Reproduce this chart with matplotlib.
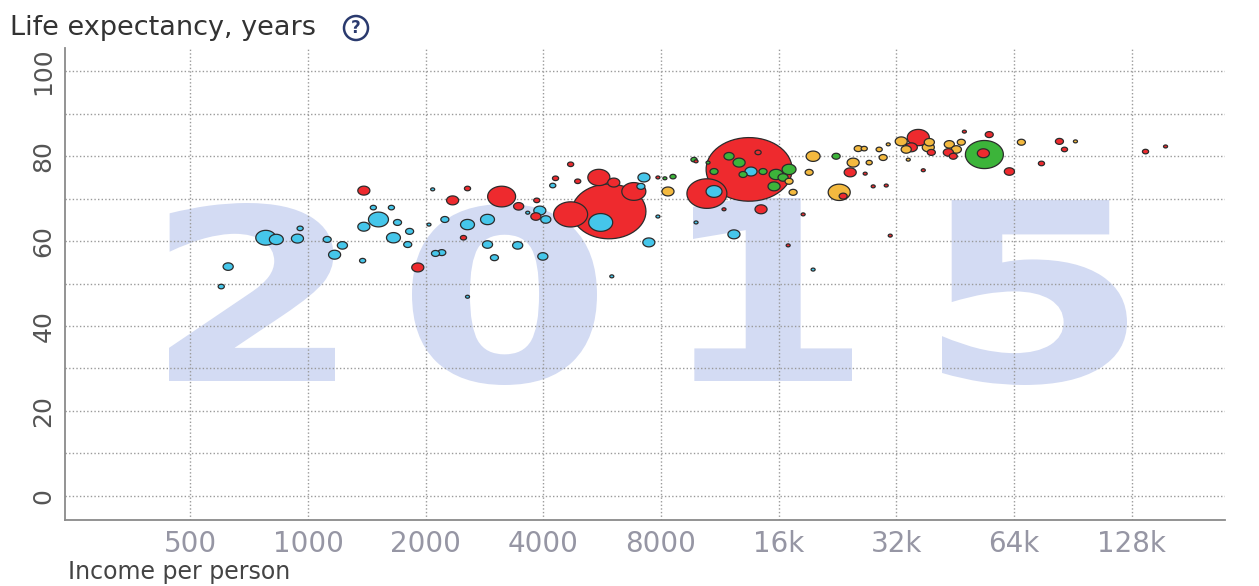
import matplotlib
matplotlib.use("Agg")
import matplotlib.pyplot as plt
import numpy as np
from matplotlib.path import Path
from matplotlib.textpath import TextPath
from matplotlib.patches import PathPatch
from matplotlib.font_manager import FontProperties
import matplotlib.transforms as mtransforms

# income per person (dollars), life expectancy (years), population (millions), region
income = [600, 625, 780, 830, 940, 955, 1120, 1170, 1225, 1380,
          1390, 1515, 1390, 1470, 1635, 1655, 1695, 1820, 1800, 1910,
          2085, 2040, 2560, 2345, 2240, 2560, 2880, 2500, 2120, 2200,
          2560, 3130, 3460, 2880, 3440, 3000, 3990, 4700, 4300, 4230,
          3920, 4060, 3830, 3850, 3650, 5890, 5610, 4700, 5550, 6820,
          6060, 4900, 7240, 7110, 7860, 8190, 8590, 8340, 7860, 7450,
          5990, 9840, 9840, 10490, 10940, 13450, 11950, 12680, 10940, 13600,
          12980, 14600, 15770, 17020, 16430, 15580, 17020, 17430, 14180, 9720,
          10560, 14430, 11600, 12300, 18490, 16930, 19610, 19160, 22460, 22870,
          23410, 24830, 24400, 27290, 26650, 25580, 26500, 28940, 29630, 27940,
          30170, 30530, 32960, 36440, 33940, 34970, 38650, 39350, 38890, 34350,
          37530, 43750, 45600, 43500, 46950, 44780, 47810, 53790, 53470, 55350,
          62330, 66890, 75290, 83700, 86230, 91980, 139000, 156400, 30890, 19610]
life = [49.3, 54.0, 60.8, 60.4, 60.6, 63.0, 60.4, 56.8, 59.0, 55.4,
        71.9, 65.1, 63.4, 67.9, 67.9, 60.8, 64.4, 62.3, 59.2, 53.8,
        72.2, 63.9, 72.4, 69.6, 65.1, 63.9, 65.1, 60.8, 57.1, 57.3,
        46.9, 70.5, 68.2, 59.2, 59.0, 56.1, 56.4, 78.1, 74.8, 73.1,
        67.2, 65.1, 65.8, 69.6, 66.7, 67.0, 64.4, 66.3, 75.0, 71.7,
        73.8, 74.1, 75.0, 72.9, 75.0, 74.8, 75.2, 71.7, 65.8, 59.7,
        51.7, 78.8, 64.4, 71.2, 71.7, 76.9, 80.0, 78.5, 76.4, 76.4,
        75.7, 76.4, 75.7, 76.9, 75.0, 72.9, 74.1, 71.5, 80.9, 79.2,
        78.5, 67.5, 67.5, 61.6, 66.3, 59.0, 80.0, 76.2, 80.0, 71.5,
        70.6, 78.5, 76.2, 78.5, 75.9, 81.8, 81.8, 81.6, 79.7, 72.9,
        73.1, 82.8, 83.5, 84.4, 81.6, 82.1, 82.1, 80.9, 83.3, 79.2,
        76.7, 82.8, 81.6, 80.9, 83.3, 80.0, 85.8, 80.4, 80.7, 85.1,
        76.4, 83.3, 78.3, 83.5, 81.6, 83.5, 81.1, 82.3, 61.3, 53.3]
pop = [7, 19, 74, 36, 27, 7, 12, 27, 19, 7,
       27, 74, 27, 7, 7, 36, 12, 12, 12, 27,
       3, 3, 7, 27, 12, 36, 36, 7, 12, 12,
       3, 145, 19, 19, 19, 12, 19, 7, 7, 7,
       27, 19, 19, 7, 3, 1014, 107, 214, 90, 107,
       27, 7, 27, 12, 3, 3, 7, 27, 3, 27,
       3, 3, 3, 296, 47, 1370, 19, 27, 12, 27,
       12, 12, 36, 36, 19, 27, 12, 12, 7, 7,
       3, 27, 3, 27, 3, 3, 36, 12, 12, 90,
       12, 27, 27, 7, 3, 12, 7, 7, 12, 3,
       3, 3, 27, 90, 19, 27, 27, 12, 19, 3,
       3, 19, 19, 19, 12, 12, 3, 267, 27, 12,
       19, 12, 7, 12, 7, 3, 7, 3, 3, 3]
region = ["af", "af", "af", "af", "af", "af", "af", "af", "af", "af",
          "as", "af", "af", "af", "af", "af", "af", "af", "af", "as",
          "af", "af", "as", "as", "af", "af", "af", "as", "af", "af",
          "af", "as", "as", "af", "af", "af", "af", "as", "as", "af",
          "af", "af", "as", "as", "af", "as", "af", "as", "as", "as",
          "as", "as", "af", "af", "as", "am", "am", "eu", "af", "af",
          "af", "as", "af", "as", "af", "as", "am", "am", "am", "af",
          "am", "am", "am", "am", "am", "am", "eu", "eu", "as", "am",
          "am", "as", "as", "af", "as", "as", "eu", "eu", "am", "eu",
          "as", "eu", "as", "eu", "as", "eu", "eu", "eu", "eu", "as",
          "as", "eu", "eu", "as", "eu", "as", "eu", "as", "eu", "eu",
          "as", "eu", "eu", "as", "eu", "as", "as", "am", "as", "as",
          "as", "eu", "as", "as", "as", "eu", "as", "as", "as", "af"]

region_colors = {"af": "#45c6ea", "as": "#ee2a2e", "am": "#3cb43a", "eu": "#f3b93f"}

x_ticks = [500, 1000, 2000, 4000, 8000, 16000, 32000, 64000, 128000]
x_labels = ["500", "1000", "2000", "4000", "8000", "16k", "32k", "64k", "128k"]
y_ticks = [0, 20, 40, 60, 80, 100]

W, H = 1259, 586
fig = plt.figure(figsize=(W / 100, H / 100), dpi=100)
ax = fig.add_axes([65 / W, 1 - 520 / H, (1225 - 65) / W, (520 - 48) / H])

# the scanned picture is squeezed vertically, so bubbles are drawn as ellipses
t = np.linspace(0, 2 * np.pi, 60)
ell = Path(np.column_stack([np.cos(t), 0.74 * np.sin(t)]), closed=True)

order = np.argsort(pop)[::-1]
inc = np.array(income)[order]
lf = np.array(life)[order]
pp = np.array(pop)[order]
cols = [region_colors[region[i]] for i in order]
ax.scatter(inc, lf, s=2.8 * pp, c=cols, marker=ell, edgecolors="#2b2b2b",
           linewidths=0.9, zorder=3)

ax.set_xscale("log")
ax.set_xlim(239, 222000)
ax.set_ylim(-5.7, 105.5)
ax.set_xticks(x_ticks)
ax.set_xticklabels(x_labels)
ax.xaxis.set_minor_locator(matplotlib.ticker.NullLocator())
ax.set_yticks(y_ticks)
ax.set_yticks(range(10, 100, 20), minor=True)
ax.grid(True, which="both", color="#9a9a9a", linestyle=(0, (1, 1.6)), linewidth=1.0)
ax.set_axisbelow(True)

ax.tick_params(axis="x", length=0, pad=7, labelsize=20, labelcolor="#9696a4")
ax.tick_params(axis="y", which="both", length=0, pad=7, labelsize=18, labelcolor="#555555")
for lab in ax.get_yticklabels():
    lab.set_rotation(90)
    lab.set_va("center")

for side in ["top", "right"]:
    ax.spines[side].set_visible(False)
for side in ["left", "bottom"]:
    ax.spines[side].set_color("#8a8a8a")
    ax.spines[side].set_linewidth(1.3)

# big year watermark
prop = FontProperties(family="DejaVu Sans", weight="bold")
boxes = [("2", 169, 335, 203, 381), ("0", 412, 597, 204, 385),
         ("1", 693, 852, 198, 381), ("5", 942, 1127, 200, 385)]
for ch, x0, x1, y0, y1 in boxes:
    tp = TextPath((0, 0), ch, size=1, prop=prop)
    ext = tp.get_extents()
    tr = (mtransforms.Affine2D().translate(-ext.x0, -ext.y0)
          .scale((x1 - x0) / ext.width, (y1 - y0) / ext.height)
          .translate(x0, H - y1))
    ax.add_patch(PathPatch(tp, transform=tr, facecolor="#d3dbf3", edgecolor="none",
                           zorder=0.2))

fig.text(10 / W, 1 - 28 / H, "Life expectancy, years", fontsize=19.5, color="#333333",
         ha="left", va="center")
fig.text(356 / W, 1 - 28 / H, "?", fontsize=12, fontweight="bold", color="#2a3a6e",
         ha="center", va="center",
         bbox=dict(boxstyle="circle,pad=0.18", fc="white", ec="#2a3a6e", lw=1.8))
fig.text(68 / W, 1 - 572 / H, "Income per person", fontsize=17, color="#444444",
         ha="left", va="center")

fig.savefig("out.png", dpi=100)
